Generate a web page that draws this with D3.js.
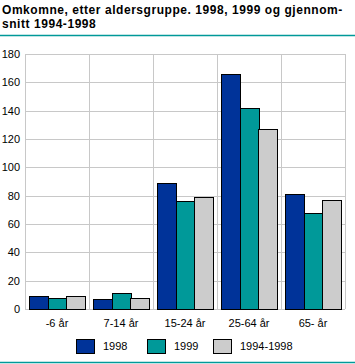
<!DOCTYPE html>
<html><head><meta charset="utf-8">
<script src="https://cdn.jsdelivr.net/npm/d3@7"></script>
<style>body{margin:0;background:#fff;}svg{display:block;font-family:"Liberation Sans",Arial,sans-serif;}</style>
</head><body>
<svg id="c" width="355" height="364"></svg>
<script>
const categories = ["-6 år","7-14 år","15-24 år","25-64 år","65- år"];
const seriesNames = ["1998","1999","1994-1998"];
const v1998 = [9, 7, 89, 166, 81];
const v1999 = [8, 11, 76, 142, 68];
const vAvg = [9, 8, 79, 127, 77];
const yTicks = [0,20,40,60,80,100,120,140,160,180];
const colors = ["#003399","#009999","#cccccc"];
const series = [v1998, v1999, vAvg];

const svg = d3.select("#c");
const L = 25, R = 345, T = 54, B = 309;
const x = d3.scaleBand().domain(categories).range([L, R]).paddingInner(0).paddingOuter(0);
const xs = d3.scaleBand().domain(seriesNames).range([0, x.bandwidth()]).paddingOuter(0.215).paddingInner(0);
const y = d3.scaleLinear().domain([0,180]).range([B, T]);

const titleLines = ["Omkomne, etter aldersgruppe. 1998, 1999 og gjennom-","snitt 1994-1998"];
svg.append("g").selectAll("text").data(titleLines).join("text")
  .attr("x",2).attr("y",(d,i)=>14+i*14).attr("font-size",12).attr("font-weight","bold")
  .attr("letter-spacing",0.55).attr("fill","#000").text(d=>d);
svg.append("line").attr("x1",0).attr("x2",355).attr("y1",35.5).attr("y2",35.5).attr("stroke","#009999").attr("stroke-width",1.5);
svg.append("line").attr("x1",0).attr("x2",355).attr("y1",362.5).attr("y2",362.5).attr("stroke","#009999").attr("stroke-width",1.5);

// grid
svg.append("g").selectAll("line").data(yTicks).join("line")
  .attr("x1",L).attr("x2",R).attr("y1",d=>Math.round(y(d))+0.5).attr("y2",d=>Math.round(y(d))+0.5)
  .attr("stroke","#c8c8c8");
svg.append("g").selectAll("line").data(categories.concat(["_end"])).join("line")
  .attr("x1",(d,i)=>Math.round(i<categories.length?x(d):R)+0.5).attr("x2",(d,i)=>Math.round(i<categories.length?x(d):R)+0.5)
  .attr("y1",T).attr("y2",B).attr("stroke","#c8c8c8");

// y labels
const yAxis = d3.axisLeft(y).tickValues(yTicks).tickSize(0).tickPadding(5);
const ga = svg.append("g").attr("transform",`translate(${L},0)`).call(yAxis);
ga.select(".domain").remove();
ga.selectAll("text").attr("font-size",11).attr("fill","#000").attr("font-family","Liberation Sans, Arial, sans-serif");

// x labels
const xAxis = d3.axisBottom(x).tickSize(0).tickPadding(10);
const gx = svg.append("g").attr("transform",`translate(0,${B})`).call(xAxis);
gx.select(".domain").remove();
gx.selectAll("text").attr("font-size",11).attr("fill","#000").attr("font-family","Liberation Sans, Arial, sans-serif");

// bars
series.forEach((vals,si)=>{
  svg.append("g").selectAll("rect").data(vals).join("rect")
    .attr("x",(d,i)=>Math.round(x(categories[i])+xs(seriesNames[si]))+0.5)
    .attr("width",Math.round(xs.bandwidth()))
    .attr("y",d=>Math.round(y(d))+0.5)
    .attr("height",d=>Math.round(B-y(d)))
    .attr("fill",colors[si]).attr("stroke","#000").attr("stroke-width",1);
});

// legend
const legX = [76,147,213];
const lg = svg.append("g");
seriesNames.forEach((n,i)=>{
  lg.append("rect").attr("x",legX[i]+0.5).attr("y",339.5).attr("width",18).attr("height",14)
    .attr("fill",colors[i]).attr("stroke","#000");
  lg.append("text").attr("x",legX[i]+27).attr("y",350).attr("font-size",11).attr("fill","#000").text(n);
});
</script>
</body></html>
